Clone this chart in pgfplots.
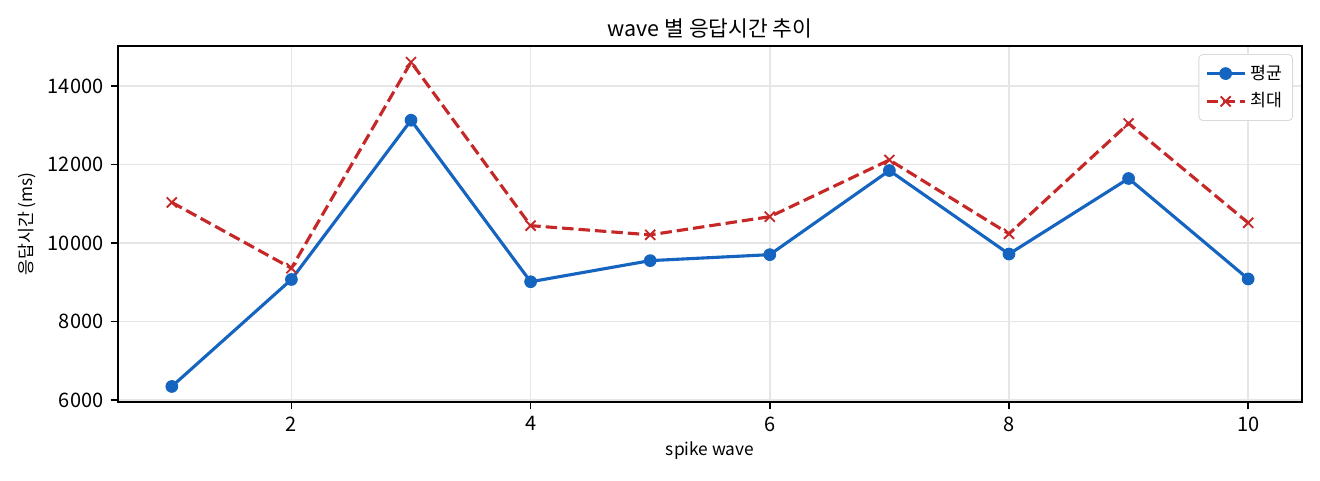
\documentclass[border=0pt]{standalone}
\usepackage{pgfplots}
\pgfplotsset{compat=1.18}
\usepackage{fontspec}
\setmainfont{Noto Sans CJK KR}
\definecolor{avgblue}{HTML}{1565C0}
\definecolor{maxred}{HTML}{C62828}
\definecolor{gridgray}{HTML}{E6E6E6}
\begin{document}
\begin{tikzpicture}
\begin{axis}[
  scale only axis,
  width=568.3pt, height=170.9pt,
  xmin=0.55, xmax=10.45,
  ymin=5950, ymax=15020,
  xtick={2,4,6,8,10},
  ytick={6000,8000,10000,12000,14000},
  scaled ticks=false,
  /pgf/number format/assume math mode=true,
  /pgf/number format/1000 sep={},
  tick label style={font=\fontsize{9.6}{12}\selectfont},
  tick align=outside,
  tick pos=left,
  major tick length=3.5pt,
  every tick/.style={black, line width=0.8pt},
  axis line style={line width=0.8pt},
  grid=major,
  major grid style={gridgray, line width=0.8pt},
  title={wave 별 응답시간 추이},
  every axis title/.style={at={(axis description cs:0.5,1)},
    anchor=center, yshift=8.4pt, font=\fontsize{10.3}{12}\selectfont},
  xlabel={spike wave},
  ylabel={응답시간 (ms)},
  every axis x label/.style={at={(axis description cs:0.5,0)},
    anchor=center, yshift=-23.5pt, font=\fontsize{8.3}{10}\selectfont},
  every axis y label/.style={at={(axis description cs:0,0.5)},
    anchor=center, rotate=90, yshift=43.7pt, font=\fontsize{8.3}{10}\selectfont},
  legend style={
    at={(0.9924,0.9775)}, anchor=north east,
    draw=black!15, rounded corners=2pt,
    font=\fontsize{8.3}{10}\selectfont,
    row sep=1pt, inner sep=3pt
  },
  legend cell align=left,
  legend image code/.code={
    \draw[mark repeat=2, mark phase=2]
      plot coordinates {(0cm,0cm) (0.32cm,0cm) (0.64cm,0cm)};
  },
]
\addplot[avgblue, line width=1.5pt, mark=*, mark size=2.8pt,
  mark options={solid, fill=avgblue, line width=0.5pt}]
  coordinates {(1,6348) (2,9073) (3,13129) (4,9015) (5,9553)
    (6,9705) (7,11848) (8,9721) (9,11645) (10,9086)};
\addplot[maxred, line width=1.5pt, dash pattern=on 5.5pt off 2.4pt,
  mark=x, mark size=3.4pt, mark options={solid, line width=0.9pt}]
  coordinates {(1,11036) (2,9360) (3,14610) (4,10444) (5,10210)
    (6,10672) (7,12117) (8,10236) (9,13048) (10,10515)};
\legend{평균, 최대}
\end{axis}
\pgfresetboundingbox
\useasboundingbox ([xshift=-56.64pt, yshift=-37.44pt]current axis.south west)
  rectangle ([xshift=8.64pt, yshift=22.08pt]current axis.north east);
\end{tikzpicture}
\end{document}
